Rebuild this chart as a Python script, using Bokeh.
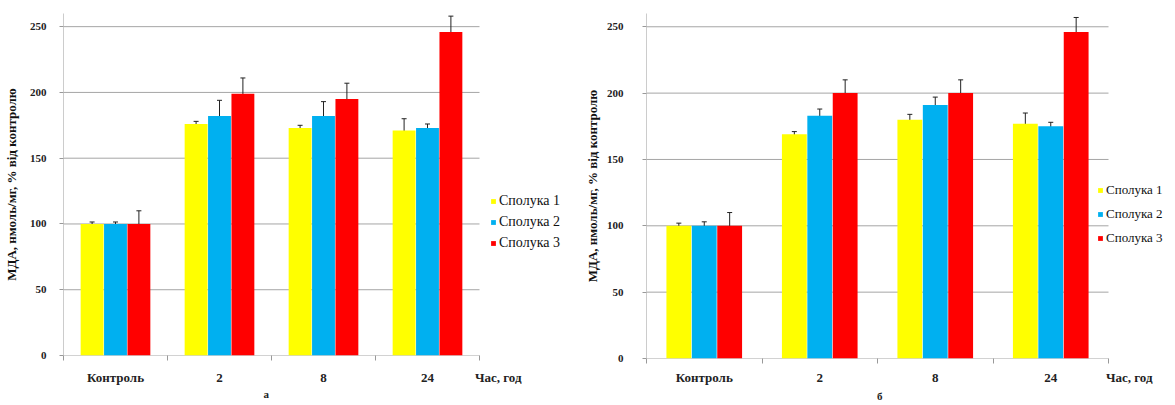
from bokeh.plotting import figure
from bokeh.layouts import row
from bokeh.models import (ColumnDataSource, Whisker, TeeHead, Legend, LegendItem,
                          LinearAxis, Range1d, FixedTicker)
from bokeh.transform import dodge
from bokeh.embed import file_html
from bokeh.resources import INLINE

categories = ["Контроль", "2", "8", "24"]
series_names = ["Сполука 1", "Сполука 2", "Сполука 3"]
colors = ["#FFFF00", "#00B0F0", "#FF0000"]
y_ticks = [0, 50, 100, 150, 200, 250]
y_label = "МДА, нмоль/мг, % від контролю"
x_label = "Час, год"

# panel "а"
a_s1 = [100, 176, 173, 171]
a_s1_err = [1.5, 2, 2, 9]
a_s2 = [100, 182, 182, 173]
a_s2_err = [1.5, 12, 11, 3]
a_s3 = [100, 199, 195, 246]
a_s3_err = [10, 12, 12, 12]

# panel "б"
b_s1 = [100, 169, 180, 177]
b_s1_err = [2, 2, 4, 8]
b_s2 = [100, 183, 191, 175]
b_s2_err = [3, 5, 6, 3]
b_s3 = [100, 200, 200, 246]
b_s3_err = [10, 10, 10, 11]

FONT = "Liberation Serif"


def make_chart(values, errors, caption, cfg):
    n = len(categories)
    centers = [i + 0.5 for i in range(n)]          # category slots on the x scale
    x_end = cfg["fw"] / cfg["cat_px"]               # extra room on the right for the legend
    p = figure(x_range=Range1d(0, x_end), y_range=Range1d(0, 260),
               frame_width=cfg["fw"], frame_height=cfg["fh"],
               min_border_left=cfg["bl"], min_border_right=0,
               min_border_top=cfg["bt"], min_border_bottom=cfg["bb"],
               output_backend="svg", toolbar_location=None)
    p.outline_line_color = None
    p.background_fill_color = "white"
    p.border_fill_color = "white"
    p.xgrid.grid_line_color = None
    p.ygrid.grid_line_color = None

    # horizontal grid lines, limited to the category area
    gsrc = ColumnDataSource(dict(y=y_ticks, x0=[0] * len(y_ticks), x1=[n] * len(y_ticks)))
    p.segment(x0="x0", x1="x1", y0="y", y1="y", source=gsrc,
              line_color="#A6A6A6", line_width=1, level="underlay")

    offsets = [-cfg["off"], 0.0, cfg["off"]]
    items = []
    for vals, errs, name, color, off in zip(values, errors, series_names, colors, offsets):
        src = ColumnDataSource(dict(xc=centers, val=vals,
                                    upper=[v + e for v, e in zip(vals, errs)],
                                    lower=[v - e for v, e in zip(vals, errs)]))
        r = p.vbar(x=dodge("xc", off), top="val", bottom=0,
                   width=cfg["bw"], source=src, fill_color=color, line_color=None)
        w = Whisker(base=dodge("xc", off), upper="upper", lower="lower",
                    source=src, dimension="height", line_color="#222222", line_width=1,
                    upper_head=TeeHead(size=5, line_color="#222222", line_width=1),
                    lower_head=TeeHead(size=5, line_color="#222222", line_width=1))
        p.add_layout(w)
        items.append(LegendItem(label=name, renderers=[r]))

    legend = Legend(items=items, location=cfg["leg_loc"], orientation="vertical",
                    glyph_width=6, glyph_height=6, label_standoff=3, padding=0, margin=0,
                    spacing=0, label_height=cfg["leg_h"], border_line_color=None,
                    background_fill_alpha=0, label_text_font=FONT,
                    label_text_font_size=cfg["leg_fs"], label_text_color="#111111")
    p.add_layout(legend, "center")

    # y axis
    p.yaxis.ticker = FixedTicker(ticks=y_ticks)
    p.yaxis.axis_label = y_label
    p.yaxis.axis_label_text_font = FONT
    p.yaxis.axis_label_text_font_style = "bold"
    p.yaxis.axis_label_text_font_size = "13px"
    p.yaxis.axis_label_text_color = "#111111"
    p.yaxis.axis_label_standoff = cfg["ylab_standoff"]
    p.yaxis.major_label_text_font = FONT
    p.yaxis.major_label_text_font_style = "bold"
    p.yaxis.major_label_text_font_size = "11px"
    p.yaxis.major_label_text_color = "#222222"
    p.yaxis.major_label_standoff = cfg["ytick_standoff"]
    p.yaxis.major_tick_out = 4
    p.yaxis.major_tick_in = 0
    p.yaxis.minor_tick_line_color = None
    p.yaxis.axis_line_color = "#CCCCCC"
    p.yaxis.major_tick_line_color = "#999999"

    # x axis: category names at slot centres, "Час, год" after the last slot,
    # small tick marks at the slot boundaries
    tick_pos = centers + [n + cfg["xlab_dx"]]
    p.xaxis.ticker = FixedTicker(ticks=tick_pos, minor_ticks=list(range(n + 1)))
    p.xaxis.major_label_overrides = {t: lab for t, lab in zip(tick_pos, categories + [x_label])}
    p.xaxis.major_label_text_font = FONT
    p.xaxis.major_label_text_font_style = "bold"
    p.xaxis.major_label_text_font_size = "13px"
    p.xaxis.major_label_text_color = "#222222"
    p.xaxis.major_label_standoff = cfg["xtick_standoff"]
    p.xaxis.major_tick_line_color = None
    p.xaxis.major_tick_out = 0
    p.xaxis.minor_tick_line_color = "#999999"
    p.xaxis.minor_tick_out = 5
    p.xaxis.minor_tick_in = 0
    p.xaxis.axis_line_color = None

    # panel caption ("а" / "б") as a second, bare axis row under the category labels
    cap_axis = LinearAxis(ticker=FixedTicker(ticks=[cfg["cap_x"]]),
                          major_label_overrides={cfg["cap_x"]: caption},
                          axis_line_color=None, major_tick_line_color=None,
                          minor_tick_line_color=None, major_tick_out=0, major_tick_in=0,
                          major_label_standoff=cfg["cap_standoff"], major_label_text_font=FONT,
                          major_label_text_font_size="11px",
                          major_label_text_font_style="bold",
                          major_label_text_color="#222222")
    p.add_layout(cap_axis, "below")
    return p


cfg_a = dict(cat_px=104, fw=518, fh=342, bl=63, bt=8, bb=52, off=0.225, bw=0.22,
             leg_loc=(427, 102), leg_h=21, leg_fs="14px",
             ylab_standoff=8, ytick_standoff=13, xtick_standoff=9,
             xlab_dx=0.18, cap_x=1.95, cap_standoff=0)
cfg_b = dict(cat_px=115.5, fw=522, fh=345, bl=54, bt=13, bb=46, off=0.22, bw=0.215,
             leg_loc=(451, 108), leg_h=24, leg_fs="13px",
             ylab_standoff=4, ytick_standoff=19, xtick_standoff=6,
             xlab_dx=0.18, cap_x=2.02, cap_standoff=2)

p1 = make_chart([a_s1, a_s2, a_s3], [a_s1_err, a_s2_err, a_s3_err], "а", cfg_a)
p2 = make_chart([b_s1, b_s2, b_s3], [b_s1_err, b_s2_err, b_s3_err], "б", cfg_b)

layout = row(p1, p2)
open("out.html", "w").write(file_html(layout, INLINE))
